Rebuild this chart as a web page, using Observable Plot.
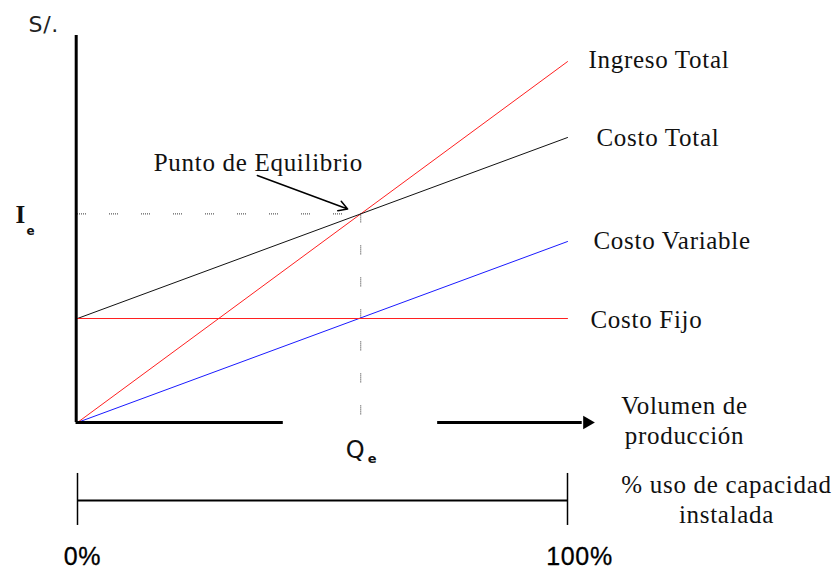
<!DOCTYPE html>
<html><head><meta charset="utf-8">
<script src="https://cdn.jsdelivr.net/npm/d3@7"></script>
<script src="https://cdn.jsdelivr.net/npm/@observablehq/plot@0.6"></script>
<style>
body{margin:0;background:#fff}
svg text{letter-spacing:0.7px}
</style>
</head><body><div id="chart"></div>
<script>
// % use of installed capacity (x) and S/. values (y) at both ends
const capacity = [0, 100];
const ingresoTotal = [0, 347];
const costoTotal = [100, 274];
const costoVariable = [0, 174];
const costoFijo = [100, 100];
const seriesNames = ["Ingreso Total", "Costo Total", "Costo Variable", "Costo Fijo"];
const capacityTicks = ["0%", "100%"];

const seriesValues = [ingresoTotal, costoTotal, costoVariable, costoFijo];
const colors = {"Ingreso Total": "#ff2020", "Costo Total": "#111", "Costo Variable": "#1a1aff", "Costo Fijo": "#ff2020"};
const rows = seriesNames.map((name, i) => capacity.map((x, j) => ({name, x, y: seriesValues[i][j]})));

// break-even point: intersection of Ingreso Total and Costo Total
const sIT = (ingresoTotal[1] - ingresoTotal[0]) / (capacity[1] - capacity[0]);
const sCT = (costoTotal[1] - costoTotal[0]) / (capacity[1] - capacity[0]);
const qe = (costoTotal[0] - ingresoTotal[0]) / (sIT - sCT);
const ie = ingresoTotal[0] + sIT * qe;

const SERIF = "Liberation Serif";
const SANS = "DejaVu Sans";
const labelOffsets = [[21, 6], [29, 8], [26, 7], [23, 9]];
const dots = "1,1,1,1,1,1,1,1,1,23";

const marks = [];
// dotted guides
marks.push(Plot.ruleY([ie], {x1: 0, x2: qe, stroke: "#333", strokeWidth: 1, strokeDasharray: dots}));
marks.push(Plot.ruleX([qe], {y1: ie, y2: 0, stroke: "#333", strokeWidth: 1, strokeDasharray: dots}));
// series lines
rows.forEach((r, i) => {
  marks.push(Plot.line(r, {x: "x", y: "y", stroke: colors[seriesNames[i]], strokeWidth: 1}));
  marks.push(Plot.text([r[1]], {x: "x", y: "y", text: d => d.name, textAnchor: "start", lineAnchor: "bottom",
    dx: labelOffsets[i][0], dy: labelOffsets[i][1], fontFamily: SERIF, fontSize: 25, fill: "#111"}));
});
// axes
marks.push(Plot.ruleX([0], {y1: 0, y2: 372, x: d => d, dx: -1.3, strokeWidth: 3, stroke: "#000"}));
marks.push(Plot.ruleY([0], {x1: -0.3, x2: 42, strokeWidth: 3, stroke: "#000"}));
marks.push(Plot.ruleY([0], {x1: 73.5, x2: 103, strokeWidth: 3, stroke: "#000"}));
marks.push(Plot.dot([{x: 104, y: 0}], {x: "x", y: "y", symbol: "triangle", rotate: 90, r: 5, fill: "#000", stroke: "none"}));
// capacity scale below
marks.push(Plot.ruleY([-75], {x1: 0, x2: 100, strokeWidth: 2, stroke: "#000"}));
marks.push(Plot.ruleX(capacity, {x: d => d, y1: -49, y2: -99, strokeWidth: 1.5, stroke: "#000"}));
marks.push(Plot.text([capacityTicks[0]], {x: [capacity[0]], frameAnchor: "top", dy: 564, dx: 5, textAnchor: "middle", lineAnchor: "bottom", fontFamily: "Liberation Sans", fontSize: 25, fill: "#000", stroke: "#000", strokeWidth: 0.3}));
marks.push(Plot.text([capacityTicks[1]], {x: [capacity[1]], frameAnchor: "top", dy: 564, dx: 12, textAnchor: "middle", lineAnchor: "bottom", fontFamily: "Liberation Sans", fontSize: 25, fill: "#000", stroke: "#000", strokeWidth: 0.3}));
// break-even annotations
marks.push(Plot.text(["I"], {x: [0], y: [ie], dx: -62, dy: 9, textAnchor: "start", lineAnchor: "bottom", fontFamily: SERIF, fontWeight: "bold", fontSize: 25, fill: "#111"}));
marks.push(Plot.text(["e"], {x: [0], y: [ie], dx: -51, dy: 21, textAnchor: "start", lineAnchor: "bottom", fontFamily: SANS, fontWeight: "bold", fontSize: 12, fill: "#111"}));
marks.push(Plot.text(["Q"], {x: [qe], y: [0], dx: -15, dy: 35, textAnchor: "start", lineAnchor: "bottom", fontFamily: SANS, fontSize: 24, fill: "#111"}));
marks.push(Plot.text(["e"], {x: [qe], y: [0], dx: 7, dy: 40, textAnchor: "start", lineAnchor: "bottom", fontFamily: SANS, fontWeight: "bold", fontSize: 13, fill: "#111"}));
marks.push(Plot.text(["Punto de Equilibrio"], {x: [qe], y: [ie], dx: -207, dy: -43, textAnchor: "start", lineAnchor: "bottom", fontFamily: SERIF, fontSize: 25, fill: "#111"}));
marks.push(Plot.arrow([{x1: 36.7, y1: 237.5, x2: qe, y2: ie}], {x1: "x1", y1: "y1", x2: "x2", y2: "y2", insetEnd: 14, headLength: 10, strokeWidth: 1.5, stroke: "#000"}));
// axis titles
marks.push(Plot.text(["S/."], {frameAnchor: "top-left", dx: 28, dy: 31, textAnchor: "start", lineAnchor: "bottom", fontFamily: SANS, fontSize: 22, fill: "#222"}));
marks.push(Plot.text(["Volumen de\nproducción"], {frameAnchor: "top-left", dx: 684, dy: 443, textAnchor: "middle", lineAnchor: "bottom", lineHeight: 1.2, fontFamily: SERIF, fontSize: 25, fill: "#111"}));
marks.push(Plot.text(["% uso de capacidad\ninstalada"], {frameAnchor: "top-left", dx: 726, dy: 522, textAnchor: "middle", lineAnchor: "bottom", lineHeight: 1.2, fontFamily: SERIF, fontSize: 25, fill: "#111"}));

const svg = Plot.plot({
  width: 837, height: 570,
  marginTop: 0, marginRight: 0, marginBottom: 0, marginLeft: 0,
  x: {domain: [0, 100], range: [77, 567], axis: null},
  y: {domain: [0, 400], range: [422, 6], axis: null},
  style: {background: "#fff", overflow: "visible"},
  marks
});
document.getElementById("chart").appendChild(svg);
</script>
</body></html>
